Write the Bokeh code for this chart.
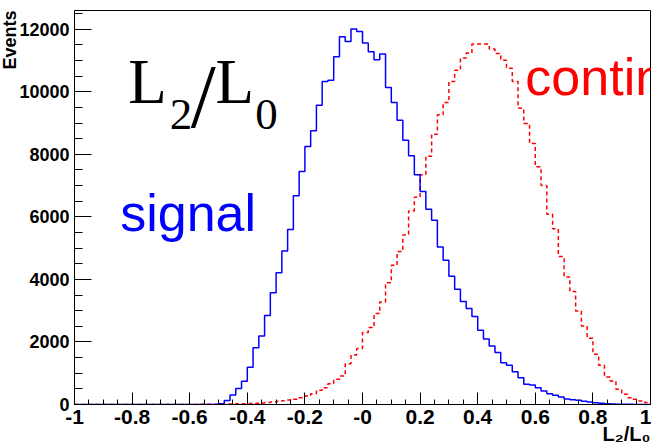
import numpy as np
from bokeh.plotting import figure
from bokeh.models import Label, FixedTicker, ColumnDataSource, Range1d, Title
from bokeh.embed import file_html
from bokeh.resources import INLINE

# ---------------- data ----------------
bin_lo, bin_hi, n_bins = -1.0, 1.0, 100

signal = [0] * 25 + [
    20, 128, 300, 512, 746, 1195, 1813, 2187, 2848, 3573,
    4213, 4907, 5600, 6672, 7450, 8251, 8752, 9573, 10331, 10373,
    11120, 11760, 11610, 12005, 11930, 11557, 11280, 11024, 11205, 10139,
    9658, 9093, 8453, 7952, 7344, 6811, 6245, 5893, 5040, 4613,
    4101, 3685, 3291, 3067, 2811, 2373, 2096, 1872, 1659, 1339,
    1253, 1051, 859, 645, 624, 539, 432, 347, 293, 240,
    176, 155, 133, 101, 80, 59, 37, 25, 15, 10,
    6, 4, 2, 1, 0]

continuum = [0] * 20 + [
    2, 3, 4, 5, 7, 9, 12, 16, 20, 25,
    30, 40, 50, 62, 78, 100, 120, 140, 165, 219,
    272, 347, 453, 539, 667, 805, 912, 1307, 1584, 1787,
    2299, 2459, 2907, 3280, 3890, 4450, 4890, 5424, 6192, 6630,
    7344, 7940, 8645, 9264, 9659, 10331, 10693, 11077, 11237, 11525,
    11525, 11525, 11365, 11227, 11013, 10757, 10331, 9477, 8987, 8347,
    7600, 7000, 6085, 5620, 4735, 4080, 3611, 2992, 2512, 2117,
    1605, 1253, 880, 752, 485, 325, 219, 165, 110, 60]

x_ticks = [-1.0, -0.8, -0.6, -0.4, -0.2, 0.0, 0.2, 0.4, 0.6, 0.8, 1.0]
x_tick_labels = ["-1", "-0.8", "-0.6", "-0.4", "-0.2", "-0", "0.2", "0.4", "0.6", "0.8", "1"]
y_ticks = [0, 2000, 4000, 6000, 8000, 10000, 12000]
y_max = 12600
x_title = "L\u2082/L\u2080"
y_title = "Events"

# ---------------- geometry (canvas pixels) ----------------
W, H = 651, 444
FL, FR, FT, FB = 70, 650, 10, 404   # frame edges


def dx(px):
    return bin_lo + (px - FL) / (FR - FL) * (bin_hi - bin_lo)


def dy(py):
    return (FB - py) / (FB - FT) * y_max


p = figure(width=W, height=H, output_backend="svg", toolbar_location=None,
           x_range=Range1d(bin_lo, bin_hi), y_range=Range1d(0, y_max),
           min_border_left=FL, min_border_right=W - FR,
           min_border_top=FT, min_border_bottom=H - FB)
p.background_fill_color = "white"
p.border_fill_color = "white"
p.outline_line_color = "black"
p.outline_line_width = 1
p.grid.visible = False

edges = np.round(np.linspace(bin_lo, bin_hi, n_bins + 1), 4)
src = ColumnDataSource(dict(x=edges,
                            sig=signal + [signal[-1]],
                            con=continuum + [continuum[-1]]))
p.step(x="x", y="con", source=src, mode="after", line_color="red",
       line_width=1.5, line_dash="4 3")
p.step(x="x", y="sig", source=src, mode="after", line_color="blue", line_width=1.5)

# axes
xminor = list(np.round(np.arange(bin_lo, bin_hi + 1e-9, 0.05), 4))
p.xaxis.ticker = FixedTicker(ticks=x_ticks, minor_ticks=xminor)
ov = {}
for t, lab in zip(x_ticks, x_tick_labels):
    ov[t] = lab
    ov["%g" % t] = lab
p.xaxis.major_label_overrides = ov
yminor = list(range(0, y_max + 1, 500))
p.yaxis.ticker = FixedTicker(ticks=y_ticks, minor_ticks=yminor)

for ax in (p.xaxis[0], p.yaxis[0]):
    ax.axis_line_color = "black"
    ax.major_tick_line_color = "black"
    ax.minor_tick_line_color = "black"
    ax.major_tick_out = 0
    ax.minor_tick_out = 0
    ax.major_label_text_font = "Liberation Sans"
    ax.major_label_text_font_style = "bold"
    ax.major_label_text_color = "black"

p.xaxis.major_tick_in = 12
p.xaxis.minor_tick_in = 5
p.xaxis.major_label_text_font_size = "21px"
p.xaxis.major_label_standoff = 5

p.yaxis.major_tick_in = 17
p.yaxis.minor_tick_in = 8
p.yaxis.major_label_text_font_size = "18px"
p.yaxis.major_label_standoff = 5

# axis titles (right / top aligned, as in ROOT)
p.add_layout(Title(text=x_title, align="right", text_font="Liberation Sans",
                   text_font_style="bold", text_font_size="20px",
                   text_color="black", standoff=-12), "below")
p.add_layout(Title(text=y_title, align="right", text_font="Liberation Sans",
                   text_font_style="bold", text_font_size="18px",
                   text_color="black", standoff=-6), "left")

# ---------------- texts ----------------
serif = "Liberation Serif"
sans = "Liberation Sans"
# baseline-to-centre offset of the text box, in em
K = {serif: 0.3375, sans: 0.3465}
texts = [
    # big title L_2/L_0   (left x, baseline y, size)
    dict(px=124, base=103, size=63, text="L", font=serif, color="black"),
    dict(px=166, base=129, size=45, text="2", font=serif, color="black"),
    dict(px=187, base=126, size=90, text="/", font=serif, color="black"),
    dict(px=212, base=103, size=63, text="L", font=serif, color="black"),
    dict(px=252, base=129, size=45, text="0", font=serif, color="black"),
    # legends
    dict(px=116, base=231, size=52, text="signal", font=sans, color="blue"),
    dict(px=524, base=95, size=52, text="contin", font=sans, color="red"),
]
for t in texts:
    cy = t["base"] - K[t["font"]] * t["size"]
    p.add_layout(Label(x=dx(t["px"]), y=dy(cy), x_units="data", y_units="data",
                       text=t["text"], text_font=t["font"],
                       text_font_size="%dpx" % t["size"], text_color=t["color"],
                       text_baseline="middle", text_align="left"))

open("out.html", "w").write(file_html(p, INLINE))
